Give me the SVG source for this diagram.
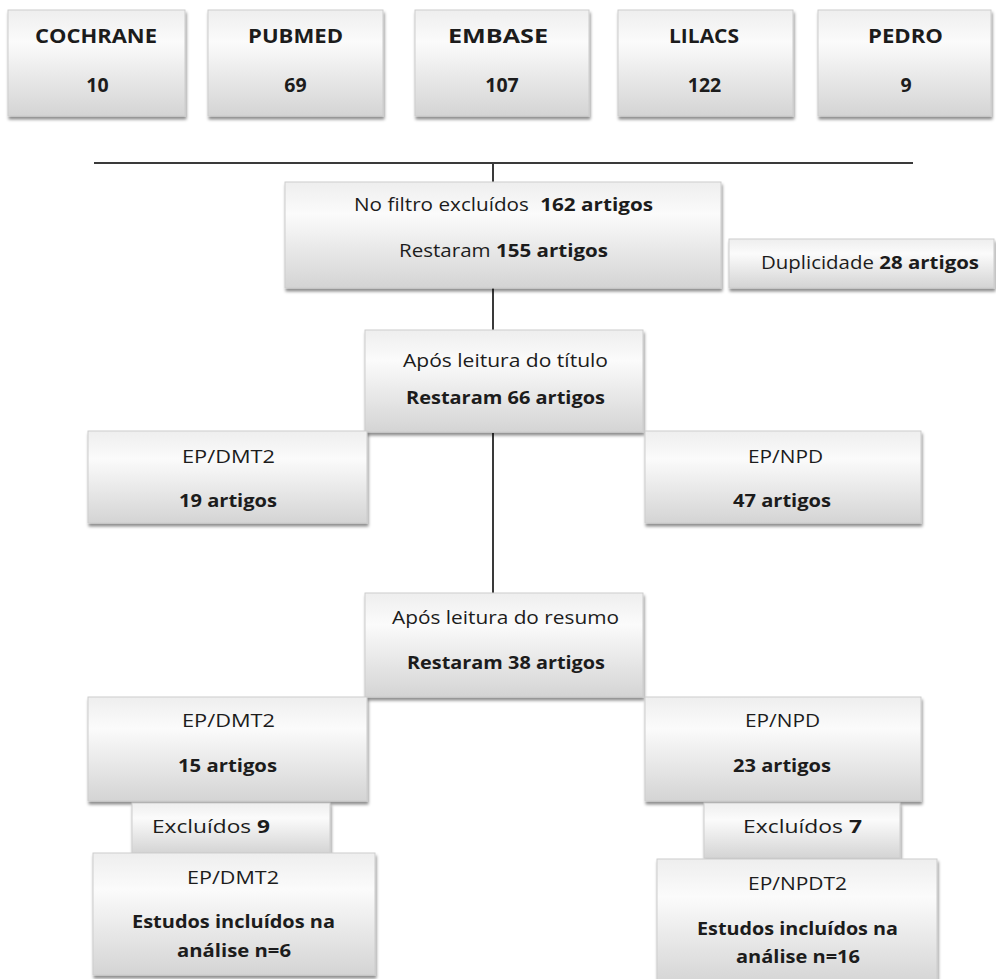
<svg xmlns="http://www.w3.org/2000/svg" width="996" height="979" viewBox="0 0 996 979">
<defs>
<linearGradient id="g" x1="0" y1="0" x2="0" y2="1">
<stop offset="0" stop-color="#eeeeee"/>
<stop offset="0.3" stop-color="#fbfbfb"/>
<stop offset="1" stop-color="#d4d4d4"/>
</linearGradient>
<filter id="sh" x="-5%" y="-10%" width="110%" height="125%">
<feDropShadow dx="1" dy="3" stdDeviation="1.5" flood-color="#000" flood-opacity="0.45"/>
</filter>
</defs>
<style>
.box{fill:url(#g);stroke:#cdcdcd;stroke-width:1;filter:url(#sh)}
text{font-family:"Open Sans","Liberation Sans",sans-serif;font-size:17.5px;fill:#1c1c1c;text-anchor:middle}
.t{font-size:19.5px;font-weight:bold}
.b{font-weight:bold}
.ln{stroke:#3a3a3a;stroke-width:2;fill:none}
</style>
<rect width="996" height="979" fill="#ffffff"/>

<g id="connectors">
<line class="ln" x1="94" y1="163" x2="913" y2="163"/>
<line class="ln" x1="493" y1="163" x2="493" y2="182"/>
<line class="ln" x1="493" y1="288" x2="493" y2="330"/>
<line class="ln" x1="493" y1="433" x2="493" y2="593"/>
</g>

<g id="cochrane"><rect class="box" x="8" y="10" width="177" height="106"/>
<text class="t" x="96" y="43" textLength="122" lengthAdjust="spacingAndGlyphs">COCHRANE</text>
<text class="t" x="97.5" y="92">10</text></g>

<g id="pubmed"><rect class="box" x="208" y="10" width="175" height="106"/>
<text class="t" x="295.5" y="43" textLength="95" lengthAdjust="spacingAndGlyphs">PUBMED</text>
<text class="t" x="295.5" y="92">69</text></g>

<g id="embase"><rect class="box" x="415" y="10" width="174" height="106"/>
<text class="t" x="498" y="43" textLength="100" lengthAdjust="spacingAndGlyphs">EMBASE</text>
<text class="t" x="502" y="92">107</text></g>

<g id="lilacs"><rect class="box" x="618" y="10" width="175" height="106"/>
<text class="t" x="704" y="43" textLength="70" lengthAdjust="spacingAndGlyphs">LILACS</text>
<text class="t" x="704.5" y="92">122</text></g>

<g id="pedro"><rect class="box" x="818" y="10" width="173" height="106"/>
<text class="t" x="905.5" y="43" textLength="75" lengthAdjust="spacingAndGlyphs">PEDRO</text>
<text class="t" x="906" y="92">9</text></g>

<g id="filtro"><rect class="box" x="285" y="182" width="436" height="106"/>
<text x="503.5" y="211" textLength="299" lengthAdjust="spacingAndGlyphs">No filtro excluídos <tspan class="b" dx="5">162 artigos</tspan></text>
<text x="503.5" y="257" textLength="209" lengthAdjust="spacingAndGlyphs">Restaram <tspan class="b">155 artigos</tspan></text></g>

<g id="duplicidade"><rect class="box" x="729" y="239" width="265" height="49"/>
<text x="870" y="269" textLength="218" lengthAdjust="spacingAndGlyphs">Duplicidade <tspan class="b">28 artigos</tspan></text></g>

<g id="titulo"><rect class="box" x="365" y="330" width="278" height="102"/>
<text x="505.5" y="367" textLength="205" lengthAdjust="spacingAndGlyphs">Após leitura do título</text>
<text class="b" x="505.5" y="404" textLength="199" lengthAdjust="spacingAndGlyphs">Restaram 66 artigos</text></g>

<g id="dmt2-a"><rect class="box" x="88" y="431" width="279" height="92"/>
<text x="228.5" y="463" textLength="93" lengthAdjust="spacingAndGlyphs">EP/DMT2</text>
<text class="b" x="228" y="507" textLength="98" lengthAdjust="spacingAndGlyphs">19 artigos</text></g>

<g id="npd-a"><rect class="box" x="645" y="431" width="276" height="92"/>
<text x="785.5" y="463" textLength="75" lengthAdjust="spacingAndGlyphs">EP/NPD</text>
<text class="b" x="782" y="507" textLength="98" lengthAdjust="spacingAndGlyphs">47 artigos</text></g>

<g id="resumo"><rect class="box" x="365" y="593" width="278" height="104"/>
<text x="505.5" y="624" textLength="227" lengthAdjust="spacingAndGlyphs">Após leitura do resumo</text>
<text class="b" x="506" y="669" textLength="198" lengthAdjust="spacingAndGlyphs">Restaram 38 artigos</text></g>

<g id="dmt2-b"><rect class="box" x="88" y="697" width="279" height="104"/>
<text x="228.5" y="727" textLength="93" lengthAdjust="spacingAndGlyphs">EP/DMT2</text>
<text class="b" x="227.5" y="772" textLength="99" lengthAdjust="spacingAndGlyphs">15 artigos</text></g>

<g id="npd-b"><rect class="box" x="645" y="697" width="276" height="104"/>
<text x="782.5" y="727" textLength="75" lengthAdjust="spacingAndGlyphs">EP/NPD</text>
<text class="b" x="782" y="772" textLength="98" lengthAdjust="spacingAndGlyphs">23 artigos</text></g>

<g id="excluidos-9"><rect class="box" x="132" y="803" width="198" height="50"/>
<text x="211" y="833" textLength="118" lengthAdjust="spacingAndGlyphs">Excluídos <tspan class="b">9</tspan></text></g>

<g id="excluidos-7"><rect class="box" x="704" y="803" width="196" height="55"/>
<text x="802.5" y="833" textLength="119" lengthAdjust="spacingAndGlyphs">Excluídos <tspan class="b">7</tspan></text></g>

<g id="dmt2-final"><rect class="box" x="93" y="853" width="282" height="122"/>
<text x="233" y="884" textLength="92" lengthAdjust="spacingAndGlyphs">EP/DMT2</text>
<text class="b" x="233.5" y="928" textLength="203" lengthAdjust="spacingAndGlyphs">Estudos incluídos na</text>
<text class="b" x="234" y="957" textLength="114" lengthAdjust="spacingAndGlyphs">análise n=6</text></g>

<g id="npdt2-final"><rect class="box" x="657" y="859" width="280" height="126"/>
<text x="797.5" y="890" textLength="99" lengthAdjust="spacingAndGlyphs">EP/NPDT2</text>
<text class="b" x="797.5" y="935" textLength="201" lengthAdjust="spacingAndGlyphs">Estudos incluídos na</text>
<text class="b" x="798" y="963" textLength="124" lengthAdjust="spacingAndGlyphs">análise n=16</text></g>
</svg>
